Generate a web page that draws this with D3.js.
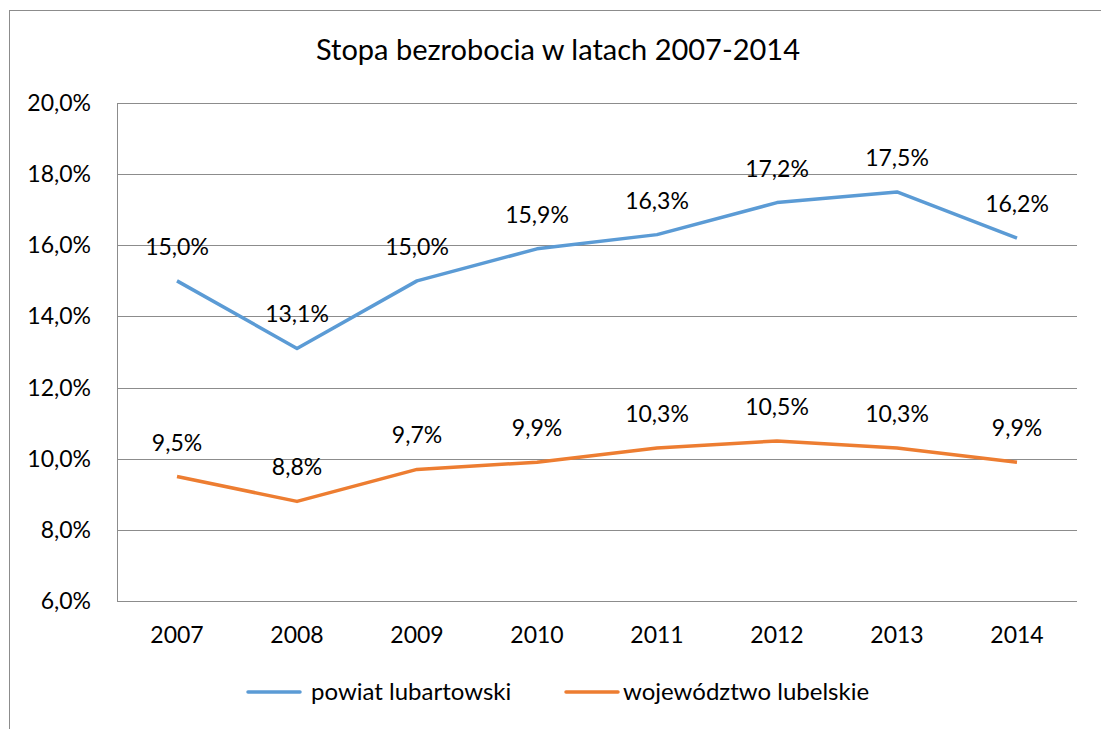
<!DOCTYPE html>
<html><head><meta charset="utf-8">
<script src="https://cdn.jsdelivr.net/npm/d3@7"></script>
<style>body{margin:0;background:#fff}svg{display:block}text{font-family:Lato,"Open Sans",sans-serif;fill:#000}</style>
</head><body><svg id="c" width="1101" height="729"></svg>
<script>
const years = ["2007","2008","2009","2010","2011","2012","2013","2014"];
const powiat = [15.0,13.1,15.0,15.9,16.3,17.2,17.5,16.2];
const wojew = [9.5,8.8,9.7,9.9,10.3,10.5,10.3,9.9];
const yTicks = [6,8,10,12,14,16,18,20];
const seriesNames = ["powiat lubartowski","województwo lubelskie"];
const colors = ["#5B9BD5","#ED7D31"];

const svg = d3.select("#c");
svg.append("rect").attr("x",9.5).attr("y",10.5).attr("width",1200).attr("height",800)
  .attr("fill","none").attr("stroke","#8c8c8c").attr("stroke-width",1);

const L=117,R=1077,T=103,B=601;
const x = d3.scalePoint().domain(years).range([L,R]).padding(0.5);
const y = d3.scaleLinear().domain([6,20]).range([B,T]);
const fmt = v => d3.format(".1f")(v).replace(".",",")+"%";

svg.append("text").attr("x",558).attr("y",60).attr("text-anchor","middle")
  .style("font-size","29px").text("Stopa bezrobocia w latach 2007-2014");

// grid
svg.append("g").selectAll("line").data(yTicks).join("line")
  .attr("x1",L).attr("x2",R).attr("y1",d=>Math.round(y(d))+0.5).attr("y2",d=>Math.round(y(d))+0.5)
  .attr("stroke","#8c8c8c").attr("stroke-width",1);
svg.append("line").attr("x1",L+0.5).attr("x2",L+0.5).attr("y1",T).attr("y2",B)
  .attr("stroke","#8c8c8c");

// y labels
svg.append("g").selectAll("text").data(yTicks).join("text")
  .attr("x",91).attr("y",d=>y(d)+8).attr("text-anchor","end")
  .style("font-size","23px").text(d=>fmt(d));
// x labels
svg.append("g").selectAll("text").data(years).join("text")
  .attr("x",d=>x(d)).attr("y",643).attr("text-anchor","middle")
  .style("font-size","23px").text(d=>d);

const line = d3.line().x((d,i)=>x(years[i])).y(d=>y(d));
[powiat,wojew].forEach((s,k)=>{
  svg.append("path").datum(s).attr("d",line).attr("fill","none")
    .attr("stroke",colors[k]).attr("stroke-width",3.5).attr("stroke-linejoin","round");
  svg.append("g").selectAll("text").data(s).join("text")
    .attr("x",(d,i)=>x(years[i])).attr("y",d=>y(d)-26).attr("text-anchor","middle")
    .style("font-size","23px").text(d=>fmt(d));
});

// legend
const leg = [{x:248,tx:311},{x:566,tx:623}];
leg.forEach((l,k)=>{
  svg.append("line").attr("x1",l.x).attr("x2",l.x+52).attr("y1",692).attr("y2",692)
    .attr("stroke",colors[k]).attr("stroke-width",3.5).attr("stroke-linecap","round");
  svg.append("text").attr("x",l.tx).attr("y",700).style("font-size","24px").text(seriesNames[k]);
});
</script></body></html>
